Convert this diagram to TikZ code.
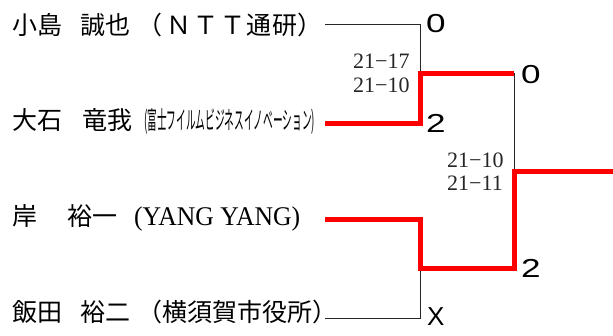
\documentclass[tikz,border=0pt]{standalone}
\usepackage{fontspec}
\setmainfont{Liberation Serif}
\newfontfamily\cjk{Noto Sans CJK JP}
\newfontfamily\arialf{Liberation Sans}
\newcommand{\widedigit}[1]{\scalebox{1.35}[1]{#1}}
\begin{document}
\begin{tikzpicture}[x=1pt,y=-1pt,
  player/.style={anchor=base west,inner sep=0pt,font=\cjk\fontsize{25}{25}\selectfont},
  score/.style={anchor=base west,inner sep=0pt,font=\fontsize{22}{22}\selectfont,text=black!85,align=left},
  result/.style={anchor=base west,inner sep=0pt,font=\arialf\fontsize{26}{26}\selectfont},
  loser/.style={draw=black!85,line width=1pt},
  winner/.style={draw=red,line width=5pt,line join=miter}]
\useasboundingbox (0,0) rectangle (613,335);
% players
\node[player] (p1) at (12,34.5) {小島\hspace{18pt}誠也\hspace{7pt}（\hspace{4pt}Ｎ\hspace{2pt}Ｔ\hspace{2pt}Ｔ\hspace{1pt}通\hspace{1pt}研）};
\node[player] (p2) at (12,129.5) {大石\hspace{20pt}竜我\hspace{12pt}\scalebox{0.388}[1]{(富士フイルムビジネスイノベーション)}};
\node[player] (p3) at (12,225.5) {岸\hspace{30pt}裕一\hspace{17pt}{\fontspec{Liberation Serif}\fontsize{27}{27}\selectfont\scalebox{0.95}[1]{(YANG YANG)}}};
\node[player] (p4) at (12,321.5) {飯田\hspace{18pt}裕二\hspace{7pt}（横須賀市役所）};
% bracket points
\coordinate (a1) at (325,24);
\coordinate (a2) at (325,123);
\coordinate (a3) at (325,219.5);
\coordinate (a4) at (325,318);
\coordinate (k1) at (420,24);
\coordinate (k2) at (420,123);
\coordinate (m1) at (420,73);
\coordinate (n1) at (514,73);
\coordinate (k3) at (420,219.5);
\coordinate (k4) at (420,318);
\coordinate (m2) at (420,268);
\coordinate (n2) at (514,268);
\coordinate (f) at (514,171);
\coordinate (w) at (613,171);
% connectors
\draw[loser] (a1) -- (k1) -- (m1);
\draw[loser] (n1) -- (f);
\draw[loser] (m2) -- (k4) -- (a4);
\draw[winner] (a2) -- (k2) -- (m1) -- (n1);
\draw[winner] (a3) -- (k3) -- (m2) -- (n2) -- (f) -- (w);
% scores
\node[score] (s1a) at (353,68.5) {21−17};
\node[score] (s1b) at (353,92.5) {21−10};
\node[score] (s2a) at (447,167.5) {21−10};
\node[score] (s2b) at (447,190.5) {21−11};
% results
\node[result] (r1) at (426,32.5) {\widedigit{0}};
\node[result] (r2) at (426,132) {\widedigit{2}};
\node[result] (r3) at (521,83.5) {\widedigit{0}};
\node[result] (r4) at (521,277.5) {\widedigit{2}};
\node[result] (r5) at (427,325.5) {X};
\end{tikzpicture}
\end{document}
